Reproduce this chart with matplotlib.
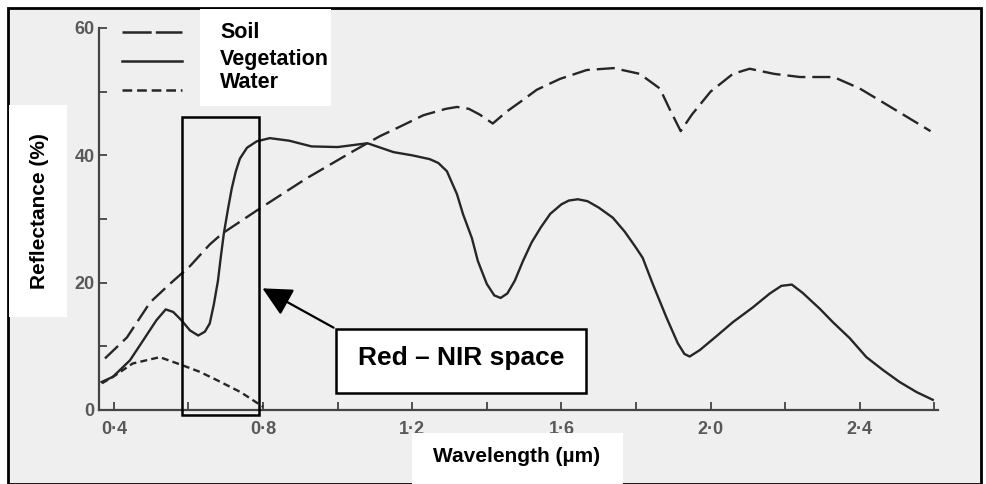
import matplotlib
matplotlib.use('Agg')
import matplotlib.pyplot as plt
from matplotlib.patches import Rectangle, FancyArrowPatch
from matplotlib.lines import Line2D

plt.rcParams['font.family'] = ['Liberation Sans', 'DejaVu Sans']
plt.rcParams['lines.scale_dashes'] = False

# values (wavelength in um, reflectance in %)
veg_x = [0.367, 0.397, 0.443, 0.478, 0.514, 0.539, 0.559, 0.581, 0.604, 0.626, 0.644,
         0.657, 0.668, 0.679, 0.687, 0.695, 0.706, 0.716, 0.727, 0.738, 0.757, 0.783,
         0.818, 0.87, 0.93, 1.00, 1.08, 1.15, 1.20, 1.247, 1.27, 1.293, 1.32, 1.336,
         1.36, 1.376, 1.40, 1.42, 1.437, 1.455, 1.475, 1.497, 1.52, 1.545, 1.57, 1.60,
         1.62, 1.644, 1.67, 1.70, 1.738, 1.77, 1.80, 1.818, 1.845, 1.882, 1.912, 1.93,
         1.944, 1.971, 2.016, 2.06, 2.113, 2.159, 2.19, 2.218, 2.247, 2.293, 2.328,
         2.373, 2.418, 2.462, 2.507, 2.553, 2.596]
veg_y = [4.4, 5.2, 7.8, 10.9, 14.1, 15.8, 15.4, 14.1, 12.5, 11.7, 12.3,
         13.6, 16.6, 20.3, 24.2, 27.8, 31.6, 34.8, 37.5, 39.5, 41.2, 42.2,
         42.7, 42.3, 41.4, 41.3, 41.9, 40.5, 40.0, 39.4, 38.8, 37.5, 33.9, 30.8,
         27.0, 23.4, 19.8, 18.0, 17.6, 18.3, 20.3, 23.4, 26.3, 28.7, 30.8, 32.3,
         32.9, 33.1, 32.8, 31.8, 30.2, 28.0, 25.5, 23.9, 19.8, 14.5, 10.5, 8.8,
         8.4, 9.4, 11.6, 13.8, 16.1, 18.3, 19.5, 19.7, 18.4, 15.9, 13.8,
         11.3, 8.3, 6.3, 4.4, 2.8, 1.6]

soil_x = [0.376, 0.435, 0.497, 0.55, 0.604, 0.657, 0.69, 0.79, 0.917, 1.04, 1.113, 1.167,
          1.23, 1.29, 1.32, 1.352, 1.381, 1.416, 1.454, 1.49, 1.534, 1.596, 1.668, 1.74,
          1.81, 1.864, 1.89, 1.92, 1.95, 2.00, 2.06, 2.105, 2.17, 2.24, 2.33, 2.40, 2.46, 2.59]
soil_y = [8.1, 11.4, 16.9, 19.8, 22.6, 26.0, 27.7, 31.6, 36.4, 40.6, 43.0, 44.5,
          46.3, 47.3, 47.6, 47.3, 46.4, 45.0, 46.9, 48.4, 50.3, 52.0, 53.4, 53.7,
          52.8, 50.5, 47.3, 43.8, 46.4, 50.0, 52.8, 53.6, 52.8, 52.3, 52.3, 50.5, 48.4, 43.8]

water_x = [0.368, 0.40, 0.45, 0.523, 0.585, 0.63, 0.676, 0.74, 0.80]
water_y = [4.2, 5.3, 7.3, 8.3, 7.0, 6.0, 4.7, 2.8, 0.5]

x_ticks = [0.4, 0.6, 0.8, 1.0, 1.2, 1.4, 1.6, 1.8, 2.0, 2.2, 2.4, 2.6]
x_labels = ['0·4', '', '0·8', '', '1·2', '', '1·6', '', '2·0', '', '2·4', '']
y_ticks = [0, 20, 40, 60]
y_minor = [10, 30, 50]
legend_names = ['Soil', 'Vegetation', 'Water']

W, H = 987, 484
fig = plt.figure(figsize=(W / 100, H / 100), dpi=100, facecolor='white')


def fx(px):
    return px / W


def fy(py):
    return 1 - py / H


# scanned page background + outer frame
fig.patches.append(Rectangle((fx(8), 0), fx(973), fy(8), transform=fig.transFigure,
                             facecolor='#efefef', edgecolor='black', linewidth=2, zorder=-10))

ax = fig.add_axes([fx(99), fy(410), fx(938 - 99), fy(28) - fy(410)])
ax.set_facecolor('none')
ink = '#262626'
ax.plot(soil_x, soil_y, color=ink, lw=1.7, dashes=(13, 5), solid_joinstyle='round')
ax.plot(veg_x, veg_y, color=ink, lw=1.7, solid_joinstyle='round')
ax.plot(water_x, water_y, color=ink, lw=1.7, dashes=(5, 3))

ax.set_xlim(0.36, 2.61)
ax.set_ylim(0, 60)
for s in ['top', 'right']:
    ax.spines[s].set_visible(False)
for s in ['left', 'bottom']:
    ax.spines[s].set_color('#444444')
    ax.spines[s].set_linewidth(1.6)
ax.set_xticks(x_ticks)
ax.set_xticklabels(x_labels)
ax.set_yticks(y_ticks)
ax.set_yticks(y_minor, minor=True)
ax.tick_params(direction='in', length=6, width=1.3, color='#444444',
               labelcolor='#585858', labelsize=13)
ax.tick_params(axis='x', pad=8)
ax.tick_params(axis='y', pad=3)
ax.tick_params(which='minor', direction='in', length=6, width=1.3, color='#444444')
for lab in ax.get_xticklabels() + ax.get_yticklabels():
    lab.set_fontweight('bold')

# legend samples drawn on the scan
lx0, lx1 = fx(122), fx(182)
fig.add_artist(Line2D([lx0, lx1], [fy(32)] * 2, transform=fig.transFigure, color=ink,
                      lw=1.8, dashes=(21, 3)))
fig.add_artist(Line2D([lx0, lx1], [fy(61)] * 2, transform=fig.transFigure, color=ink, lw=1.8))
fig.add_artist(Line2D([lx0, lx1], [fy(90)] * 2, transform=fig.transFigure, color=ink,
                      lw=1.8, dashes=(7, 3.5)))

# white label boxes pasted over the scan
fig.patches.append(Rectangle((fx(200), fy(106)), fx(131), fy(9) - fy(106),
                             transform=fig.transFigure, facecolor='white', edgecolor='none', zorder=1))
fig.patches.append(Rectangle((fx(9), fy(317)), fx(58), fy(105) - fy(317),
                             transform=fig.transFigure, facecolor='white', edgecolor='none', zorder=1))
fig.patches.append(Rectangle((fx(412), 0), fx(211), fy(433),
                             transform=fig.transFigure, facecolor='white', edgecolor='none', zorder=1))

for name, py in zip(legend_names, [33, 59, 83]):
    fig.text(fx(220), fy(py), name, fontsize=15.5, fontweight='bold', va='center', ha='left')
fig.text(fx(40), fy(211), 'Reflectance (%)', rotation=90, fontsize=15, fontweight='bold',
         va='center', ha='center')
fig.text(fx(517), fy(457), 'Wavelength (µm)', fontsize=15, fontweight='bold',
         va='center', ha='center')

# Red - NIR region box, callout and arrow
fig.patches.append(Rectangle((fx(182), fy(415)), fx(77), fy(117) - fy(415),
                             transform=fig.transFigure, facecolor='none', edgecolor='black',
                             linewidth=1.8, zorder=3))
fig.patches.append(Rectangle((fx(336), fy(393)), fx(250), fy(329) - fy(393),
                             transform=fig.transFigure, facecolor='white', edgecolor='black',
                             linewidth=1.8, zorder=3))
fig.text(fx(461), fy(358), 'Red – NIR space', fontsize=19, fontweight='bold',
         va='center', ha='center', zorder=4)
fig.patches.append(FancyArrowPatch((fx(336), fy(329)), (fx(260), fy(287)),
                                   transform=fig.transFigure, arrowstyle='-|>,head_length=12,head_width=6',
                                   mutation_scale=1.5, color='black', lw=1.6, zorder=3))

fig.savefig('out.png', dpi=100, facecolor='white')
